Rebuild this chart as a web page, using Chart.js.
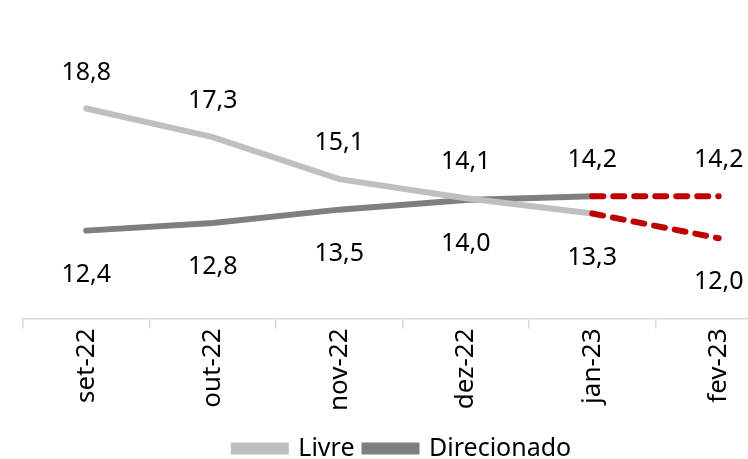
<!DOCTYPE html>
<html>
<head>
<meta charset="utf-8">
<script src="https://cdn.jsdelivr.net/npm/chart.js@4"></script>
<style>
  html, body { margin: 0; padding: 0; background: #fff; overflow: hidden; }
  #wrap { width: 782px; height: 471px; }
</style>
</head>
<body>
<div id="wrap"><canvas id="myChart"></canvas></div>
<script>
// Data - START
const categories = ['set-22', 'out-22', 'nov-22', 'dez-22', 'jan-23', 'fev-23'];
const livre = [18.8, 17.3, 15.1, 14.1, 13.3, 12.0];
const direcionado = [12.4, 12.8, 13.5, 14.0, 14.2, 14.2];
// label above (true) or below (false) the point
const livreAbove = [true, true, true, true, false, false];
const direcionadoAbove = [false, false, false, false, true, true];
// Data - END

const FONT = "'Noto Sans', sans-serif";
const RED = '#C00000';

// dashed red for the projected segment (jan-23 -> fev-23)
const projSegment = {
    borderColor: ctx => ctx.p0DataIndex >= 4 ? RED : undefined,
    borderDash: ctx => ctx.p0DataIndex >= 4 ? [11, 10] : undefined
};

const valueLabels = {
    id: 'valueLabels',
    afterDatasetsDraw(chart) {
        const ctx = chart.ctx;
        ctx.save();
        ctx.font = '25px ' + FONT;
        ctx.fillStyle = '#000';
        ctx.textAlign = 'center';
        ctx.textBaseline = 'middle';
        chart.data.datasets.forEach((ds, i) => {
            const meta = chart.getDatasetMeta(i);
            meta.data.forEach((pt, j) => {
                const up = ds.labelAbove[j];
                const y = up ? pt.y - 36 : pt.y + 44;
                ctx.fillText(ds.data[j].toFixed(1).replace('.', ','), pt.x, y);
            });
        });
        ctx.restore();
    }
};

const data = {
    labels: categories,
    datasets: [
        {
            label: 'Livre',
            data: livre,
            labelAbove: livreAbove,
            borderColor: '#BFBFBF',
            backgroundColor: '#BFBFBF',
            borderWidth: 6,
            pointRadius: 0,
            borderCapStyle: 'round',
            segment: projSegment
        },
        {
            label: 'Direcionado',
            data: direcionado,
            labelAbove: direcionadoAbove,
            borderColor: '#7F7F7F',
            backgroundColor: '#7F7F7F',
            borderWidth: 6,
            pointRadius: 0,
            borderCapStyle: 'round',
            segment: projSegment
        }
    ]
};

const config = {
    type: 'line',
    data: data,
    plugins: [valueLabels],
    options: {
        responsive: true,
        maintainAspectRatio: false,
        animation: false,
        layout: { padding: { left: 23, right: 0, top: 36, bottom: 0 } },
        plugins: {
            legend: {
                display: true,
                position: 'bottom',
                labels: {
                    color: '#000',
                    font: { family: FONT, size: 25 },
                    boxWidth: 52,
                    boxHeight: 6,
                    padding: 10
                }
            },
            tooltip: { enabled: false }
        },
        scales: {
            x: {
                offset: true,
                afterFit: scale => { scale.height += 15; },
                border: { color: '#D9D9D9', width: 1.5 },
                grid: {
                    offset: true,
                    drawOnChartArea: false,
                    color: '#D9D9D9',
                    lineWidth: 1.5,
                    tickLength: 10
                },
                ticks: {
                    color: '#000',
                    font: { family: FONT, size: 26 },
                    maxRotation: 90,
                    minRotation: 90,
                    padding: 0
                }
            },
            y: {
                display: false,
                min: 7.8,
                max: 22.6
            }
        }
    }
};

new Chart('myChart', config);
</script>
</body>
</html>
